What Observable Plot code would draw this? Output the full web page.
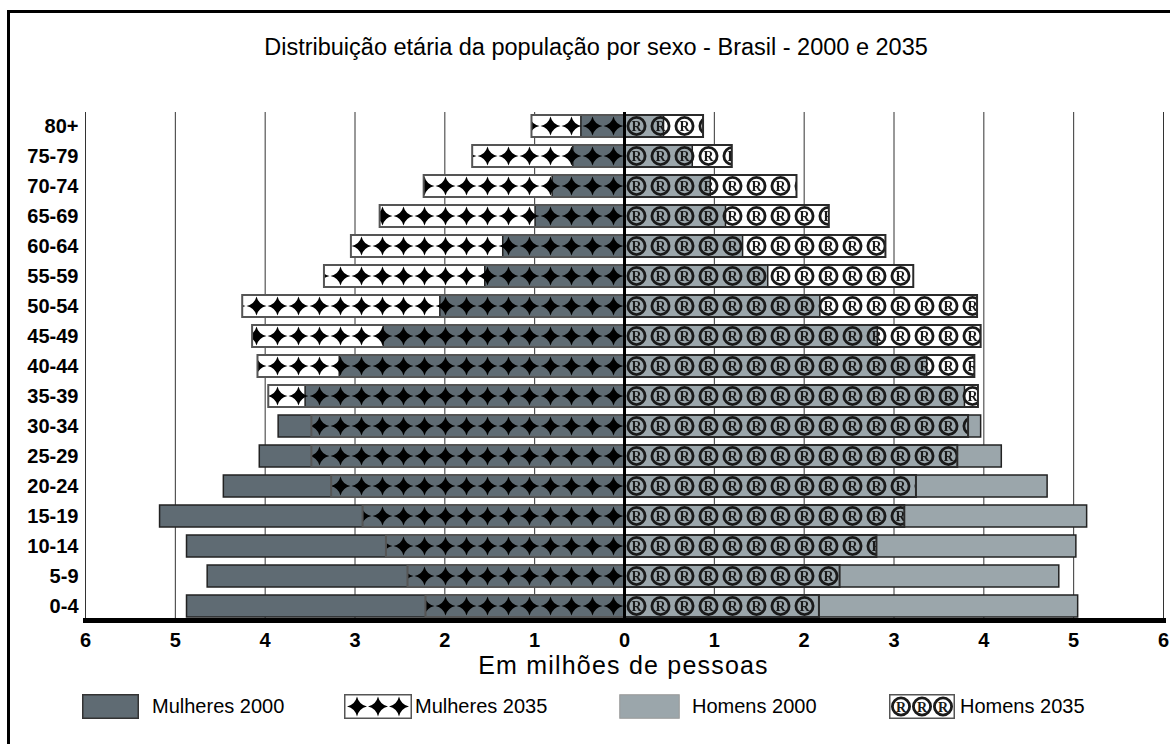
<!DOCTYPE html>
<html><head><meta charset="utf-8">
<script src="https://cdn.jsdelivr.net/npm/d3@7"></script>
<script src="https://cdn.jsdelivr.net/npm/@observablehq/plot@0.6"></script>
<style>
body{margin:0;background:#fff;font-family:"Liberation Sans",Arial,sans-serif;color:#000;}
#wrap{position:relative;width:1170px;height:744px;overflow:hidden;}
#frame{position:absolute;left:7px;top:10px;width:1300px;height:900px;border-left:3px solid #000;border-top:3px solid #000;box-sizing:border-box;}
#title{position:absolute;left:0;width:1192px;top:33px;text-align:center;font-size:23.5px;line-height:28px;}
#xlabel{position:absolute;left:0;width:1247px;top:653px;text-align:center;font-size:25px;line-height:25px;letter-spacing:1.2px;}
#chart{position:absolute;left:0;top:80px;}
.lg{position:absolute;top:694px;height:25px;}
.lgt{position:absolute;top:694px;line-height:25px;font-size:20px;}
</style></head>
<body><div id="wrap"><div id="frame"></div>
<div id="title">Distribuição etária da população por sexo - Brasil - 2000 e 2035</div>
<div id="chart"></div><div id="xlabel"></div><div id="legend"></div></div>
<script>
const ages = ["80+","75-79","70-74","65-69","60-64","55-59","50-54","45-49","40-44","35-39","30-34","25-29","20-24","15-19","10-14","5-9","0-4"];
const mulheres2000 = [0.48,0.57,0.80,0.99,1.35,1.55,2.05,2.68,3.17,3.55,3.85,4.06,4.46,5.17,4.87,4.64,4.87];
const mulheres2035 = [1.03,1.69,2.23,2.72,3.04,3.34,4.25,4.14,4.08,3.96,3.48,3.48,3.26,2.91,2.65,2.41,2.21];
const homens2000  = [0.44,0.76,0.96,1.13,1.32,1.60,2.18,2.82,3.37,3.79,3.97,4.20,4.71,5.15,5.03,4.84,5.05];
const homens2035  = [0.88,1.20,1.92,2.28,2.91,3.22,3.93,3.97,3.90,3.94,3.83,3.71,3.25,3.12,2.81,2.40,2.17];
const xTicks = [-6,-5,-4,-3,-2,-1,0,1,2,3,4,5,6];
const legendLabels = ["Mulheres 2000","Mulheres 2035","Homens 2000","Homens 2035"];
const xLabel = "Em milhões de pessoas";

const DARK = "#5f6b73", LIGHT = "#9ba6ab";
const rows = ages.map((a,i)=>({age:a, m00:mulheres2000[i], m35:mulheres2035[i], h00:homens2000[i], h35:homens2035[i]}));

const plot = Plot.plot({
  width:1170, height:560, marginLeft:85, marginRight:7, marginTop:32, marginBottom:20,
  style:{fontFamily:"'Liberation Sans', Arial, sans-serif", background:"transparent", overflow:"visible"},
  x:{domain:[-6,6]},
  y:{domain:ages, paddingInner:0.27, paddingOuter:0},
  marks:[
    Plot.ruleX(xTicks.filter(d=>d!==0), {stroke:"#333", strokeWidth:1}),
    Plot.barX(rows, {y:"age", x1:0, x2:d=>-d.m35, fill:"white"}),
    Plot.barX(rows, {y:"age", x1:0, x2:d=>-d.m00, fill:DARK, stroke:"#222", strokeWidth:1.5}),
    Plot.barX(rows, {y:"age", x1:0, x2:d=>-d.m35, fill:"url(#stars)", stroke:"#555", strokeWidth:2}),
    Plot.barX(rows, {y:"age", x1:0, x2:"h35", fill:"white"}),
    Plot.barX(rows, {y:"age", x1:0, x2:"h00", fill:LIGHT, stroke:"#222", strokeWidth:1.5}),
    Plot.barX(rows, {y:"age", x1:0, x2:"h35", fill:"url(#regs)", stroke:"#2a2a2a", strokeWidth:2}),
    Plot.ruleX([0], {stroke:"#000", strokeWidth:3}),
    Plot.frame({anchor:"bottom", stroke:"#000", strokeWidth:5}),
    Plot.axisX({ticks:xTicks, tickFormat:d=>Math.abs(d), tickSize:0, tickPadding:12, fontSize:20, fontWeight:"bold", label:null}),
    Plot.axisY({tickSize:0, tickPadding:7, fontSize:20, fontWeight:"bold", label:null})
  ]
});
document.getElementById("chart").appendChild(plot);
document.getElementById("xlabel").textContent = xLabel;

// patterns
const ys = plot.scale("y"), xs = plot.scale("x");
const bw = ys.bandwidth, step = ys.step, y0 = ys.apply(ages[0]), x0 = xs.apply(0);
function starPath(cx, cy, rx, ry, c){
  return `M${cx},${cy-ry} Q${cx+c},${cy-c} ${cx+rx},${cy} Q${cx+c},${cy+c} ${cx},${cy+ry} Q${cx-c},${cy+c} ${cx-rx},${cy} Q${cx-c},${cy-c} ${cx},${cy-ry} Z`;
}
function addReg(sel, cx, cy){
  sel.append("circle").attr("cx",cx).attr("cy",cy).attr("r",8.6).attr("fill","none").attr("stroke","#1a1a1a").attr("stroke-width",2.8);
  sel.append("text").attr("x",cx).attr("y",cy).attr("dy","0.36em").attr("text-anchor","middle")
    .attr("font-size",14).attr("font-weight","bold").attr("font-family","'Liberation Serif', serif").attr("fill","#1a1a1a").text("R");
}
const defs = d3.select(plot).insert("defs", ":first-child");
const ps = defs.append("pattern").attr("id","stars").attr("patternUnits","userSpaceOnUse")
  .attr("x", x0).attr("y", y0).attr("width", 21).attr("height", step);
ps.append("path").attr("d", starPath(10.5, bw/2, 10, 9.5, 1.9)).attr("fill","#000");
const pr = defs.append("pattern").attr("id","regs").attr("patternUnits","userSpaceOnUse")
  .attr("x", x0).attr("y", y0).attr("width", 24).attr("height", step);
addReg(pr, 12.5, bw/2);

// legend
const lgPos = [{s:82,w:57,t:152},{s:344,w:68,t:415},{s:619,w:61,t:692},{s:889,w:66,t:960}];
const lg = d3.select("#legend");
legendLabels.forEach((lab,i)=>{
  const p = lgPos[i];
  const s = lg.append("svg").attr("class","lg").attr("width",p.w).attr("height",25).style("left",p.s+"px");
  const r = s.append("rect").attr("x",0.75).attr("y",0.75).attr("width",p.w-1.5).attr("height",23.5);
  if(i===0) r.attr("fill",DARK).attr("stroke","#333").attr("stroke-width",1.5);
  else if(i===2) r.attr("fill",LIGHT).attr("stroke","#999").attr("stroke-width",1);
  else r.attr("fill","#fff").attr("stroke","#555").attr("stroke-width",1.5);
  if(i===1) for(let k=0;k<3;k++) s.append("path").attr("d", starPath(13+k*21, 12.5, 10, 10, 1.9)).attr("fill","#000");
  if(i===3) for(let k=0;k<3;k++) addReg(s, 12+k*21, 12.5);
  lg.append("div").attr("class","lgt").style("left",p.t+"px").text(lab);
});
</script></body></html>
